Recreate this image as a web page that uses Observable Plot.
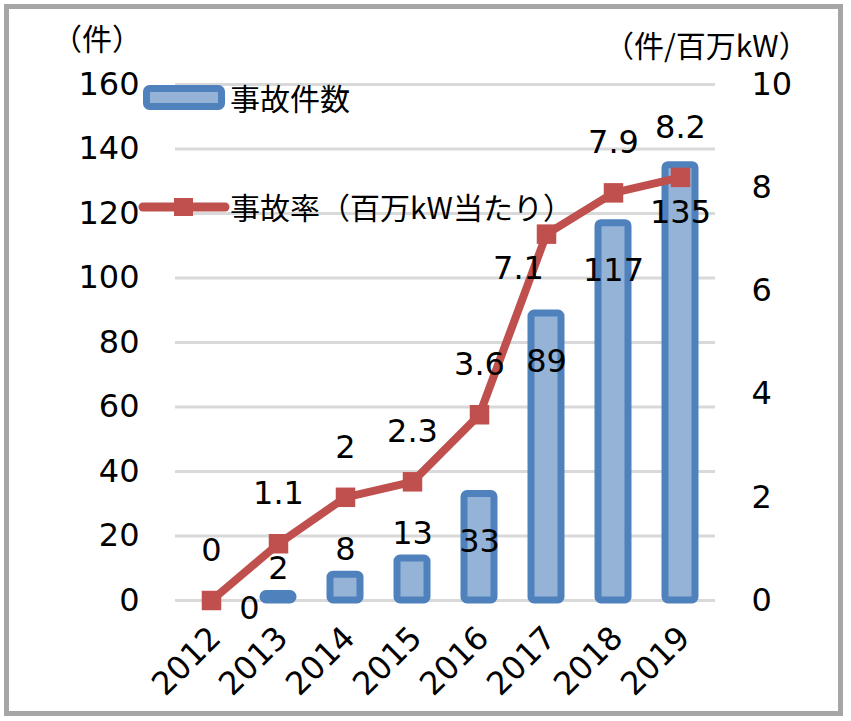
<!DOCTYPE html>
<html><head><meta charset="utf-8">
<script src="https://cdn.jsdelivr.net/npm/d3@7"></script>
<script src="https://cdn.jsdelivr.net/npm/@observablehq/plot@0.6"></script>
<style>body{margin:0;background:#fff} #chart{width:851px;height:721px}</style>
</head><body><div id="chart"></div>
<script>
const years = ["2012","2013","2014","2015","2016","2017","2018","2019"];
const counts = [0, 2, 8, 13, 33, 89, 117, 135];
const rates = [0, 1.1, 2, 2.3, 3.6, 7.1, 7.9, 8.2];
const leftTicks = [0, 20, 40, 60, 80, 100, 120, 140, 160];
const rightTicks = [0, 2, 4, 6, 8, 10];
const leftUnit = "（件）";
const rightUnit = "（件/百万kW）";
const seriesNames = ["事故件数", "事故率（百万kW当たり）"];
const RATE_TO_COUNT = 16; // right axis 0–10 maps onto left axis 0–160

const data = years.map((year, i) => ({year, count: counts[i], rate: rates[i], rateY: rates[i] * RATE_TO_COUNT}));

const NUM_FONT = "'DejaVu Sans', 'Noto Sans CJK JP', sans-serif";
const JP_FONT = "'Noto Sans CJK JP', 'DejaVu Sans', sans-serif";
const BAR_FILL = "#95B3D7", BAR_STROKE = "#4F81BD", LINE = "#C0504D";
const FS = 32;

const svg = Plot.plot({
  width: 851, height: 721,
  marginTop: 84, marginBottom: 121, marginLeft: 175, marginRight: 136,
  style: {fontFamily: NUM_FONT, fontSize: FS + "px", background: "white", color: "#000", overflow: "visible"},
  x: {type: "band", domain: years, paddingInner: 0.556, paddingOuter: 0.278, label: null},
  y: {domain: [0, 160], label: null},
  marks: [
    Plot.gridY(leftTicks, {stroke: "#d9d9d9", strokeOpacity: 1, strokeWidth: 3}),
    Plot.barY(data, {filter: d => d.count > 0, x: "year", y: "count", fill: BAR_FILL, stroke: BAR_STROKE, strokeWidth: 7, rx: 3}),
    Plot.line(data, {x: "year", y: "rateY", stroke: LINE, strokeWidth: 8}),
    Plot.dot(data, {x: "year", y: "rateY", symbol: "square", r: 11, fill: LINE, stroke: "none"}),
    Plot.axisY({ticks: leftTicks, tickSize: 0, tickPadding: 36, fontSize: FS, label: null}),
    Plot.axisY({anchor: "right", ticks: rightTicks.map(t => t * RATE_TO_COUNT), tickFormat: d => String(d / RATE_TO_COUNT), tickSize: 0, tickPadding: 36, fontSize: FS, label: null}),
    Plot.axisX({tickRotate: -45, tickSize: 0, tickPadding: 32, dx: 4, fontSize: FS, label: null}),
    // bar labels
    Plot.text(data, {filter: d => d.count === 0, x: "year", y: "count", text: d => String(d.count), dx: 38, dy: 8, fontSize: FS}),
    Plot.text(data, {filter: d => d.count > 0 && d.count < 20, x: "year", y: "count", text: d => String(d.count), dy: -25, fontSize: FS}),
    Plot.text(data, {filter: d => d.count >= 20, x: "year", y: "count", text: d => String(d.count), dy: 48, fontSize: FS}),
    // line labels
    Plot.text(data, {filter: d => d.year !== "2017", x: "year", y: "rateY", text: d => String(d.rate), dy: -50, fontSize: FS}),
    Plot.text(data, {filter: d => d.year === "2017", x: "year", y: "rateY", text: d => String(d.rate), dx: -28, dy: 35, fontSize: FS})
  ]
});
document.getElementById("chart").appendChild(svg);

const s = d3.select(svg);
const addText = (x, y, str) => s.append("text").attr("x", x).attr("y", y)
  .attr("dominant-baseline", "central").attr("text-anchor", "start")
  .attr("font-family", JP_FONT).attr("font-size", 30).attr("fill", "#000").text(str);
// axis unit titles
addText(52, 37, leftUnit);
addText(604, 44, rightUnit);

// legend: bars
s.append("rect").attr("x", 146.5).attr("y", 88.5).attr("width", 75).attr("height", 18).attr("rx", 3)
  .attr("fill", BAR_FILL).attr("stroke", BAR_STROKE).attr("stroke-width", 7);
addText(230, 97, seriesNames[0]);
// legend: line
s.append("line").attr("x1", 143).attr("x2", 225).attr("y1", 207).attr("y2", 207)
  .attr("stroke", LINE).attr("stroke-width", 9).attr("stroke-linecap", "round");
s.append("rect").attr("x", 174).attr("y", 198).attr("width", 19).attr("height", 18).attr("fill", LINE);
addText(230, 206, seriesNames[1]);

// outer frame
s.append("rect").attr("x", 6.5).attr("y", 6.5).attr("width", 834).attr("height", 707)
  .attr("fill", "none").attr("stroke", "#a6a6a6").attr("stroke-width", 5);
</script></body></html>
